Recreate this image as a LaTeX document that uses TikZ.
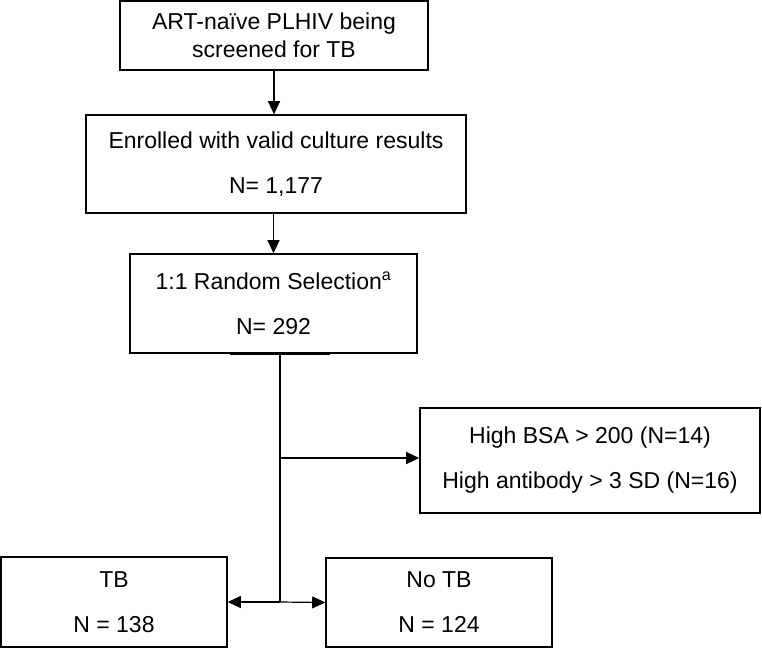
\documentclass[tikz,border=0pt]{standalone}
\usepackage{fontspec}
\setmainfont{Liberation Sans}
\usetikzlibrary{arrows.meta}

\tikzset{
  flowbox/.style={draw, line width=1.6pt, align=center, inner sep=0pt,
    font=\fontsize{23}{45}\selectfont},
  flowarrow/.style={line width=1.2pt, -{Triangle[length=13pt,width=12pt]}},
  trunk/.style={line width=2.4pt},
}

\begin{document}
\begin{tikzpicture}[x=1pt,y=-1pt]
\useasboundingbox (0,0) rectangle (762,649);
\node[flowbox, minimum width=308pt, minimum height=69pt, font=\fontsize{23}{28}\selectfont] (screen) at (274,35.5) {ART-naïve PLHIV being\\screened for TB}; % Box.0
\node[flowbox, minimum width=380pt, minimum height=98pt] (enrol) at (276,164) {Enrolled with valid culture results\\N= 1,177}; % Box.1
\node[flowbox, minimum width=287pt, minimum height=99pt] (sel) at (273.5,303.5) {1:1 Random Selection\textsuperscript{a}\\N= 292}; % Box.2
\node[flowbox, minimum width=340pt, minimum height=105pt] (excl) at (590,460.5) {High BSA > 200 (N=14)\\High antibody > 3 SD (N=16)}; % Box.3
\node[flowbox, minimum width=226pt, minimum height=90pt] (tb) at (114,602) {TB\\N = 138}; % Box.4
\node[flowbox, minimum width=226pt, minimum height=89pt] (notb) at (439,602.5) {No TB\\N = 124}; % Box.5
\coordinate (fork) at (280,602); % Fork.0
\coordinate (branch) at (280,458); % Fork.1
\coordinate (top) at (sel.south -| fork); % Fork.2
\draw[flowarrow] (screen.south) -- (screen.south |- enrol.north); % screen-enrol
\draw[flowarrow] (sel.north |- enrol.south) -- (sel.north); % enrol-sel
\draw[trunk] (top) -- (fork); % sel-fork
\draw[trunk] (top) ++(-50,0) -- ++(100,0); % sel-fork
\draw[flowarrow] (branch) -- (branch -| excl.west); % fork-excl
\draw[flowarrow] (fork) -- (tb.east); % fork-tb
\draw[flowarrow] (fork) -- (notb.west); % fork-notb
\end{tikzpicture}
\end{document}
